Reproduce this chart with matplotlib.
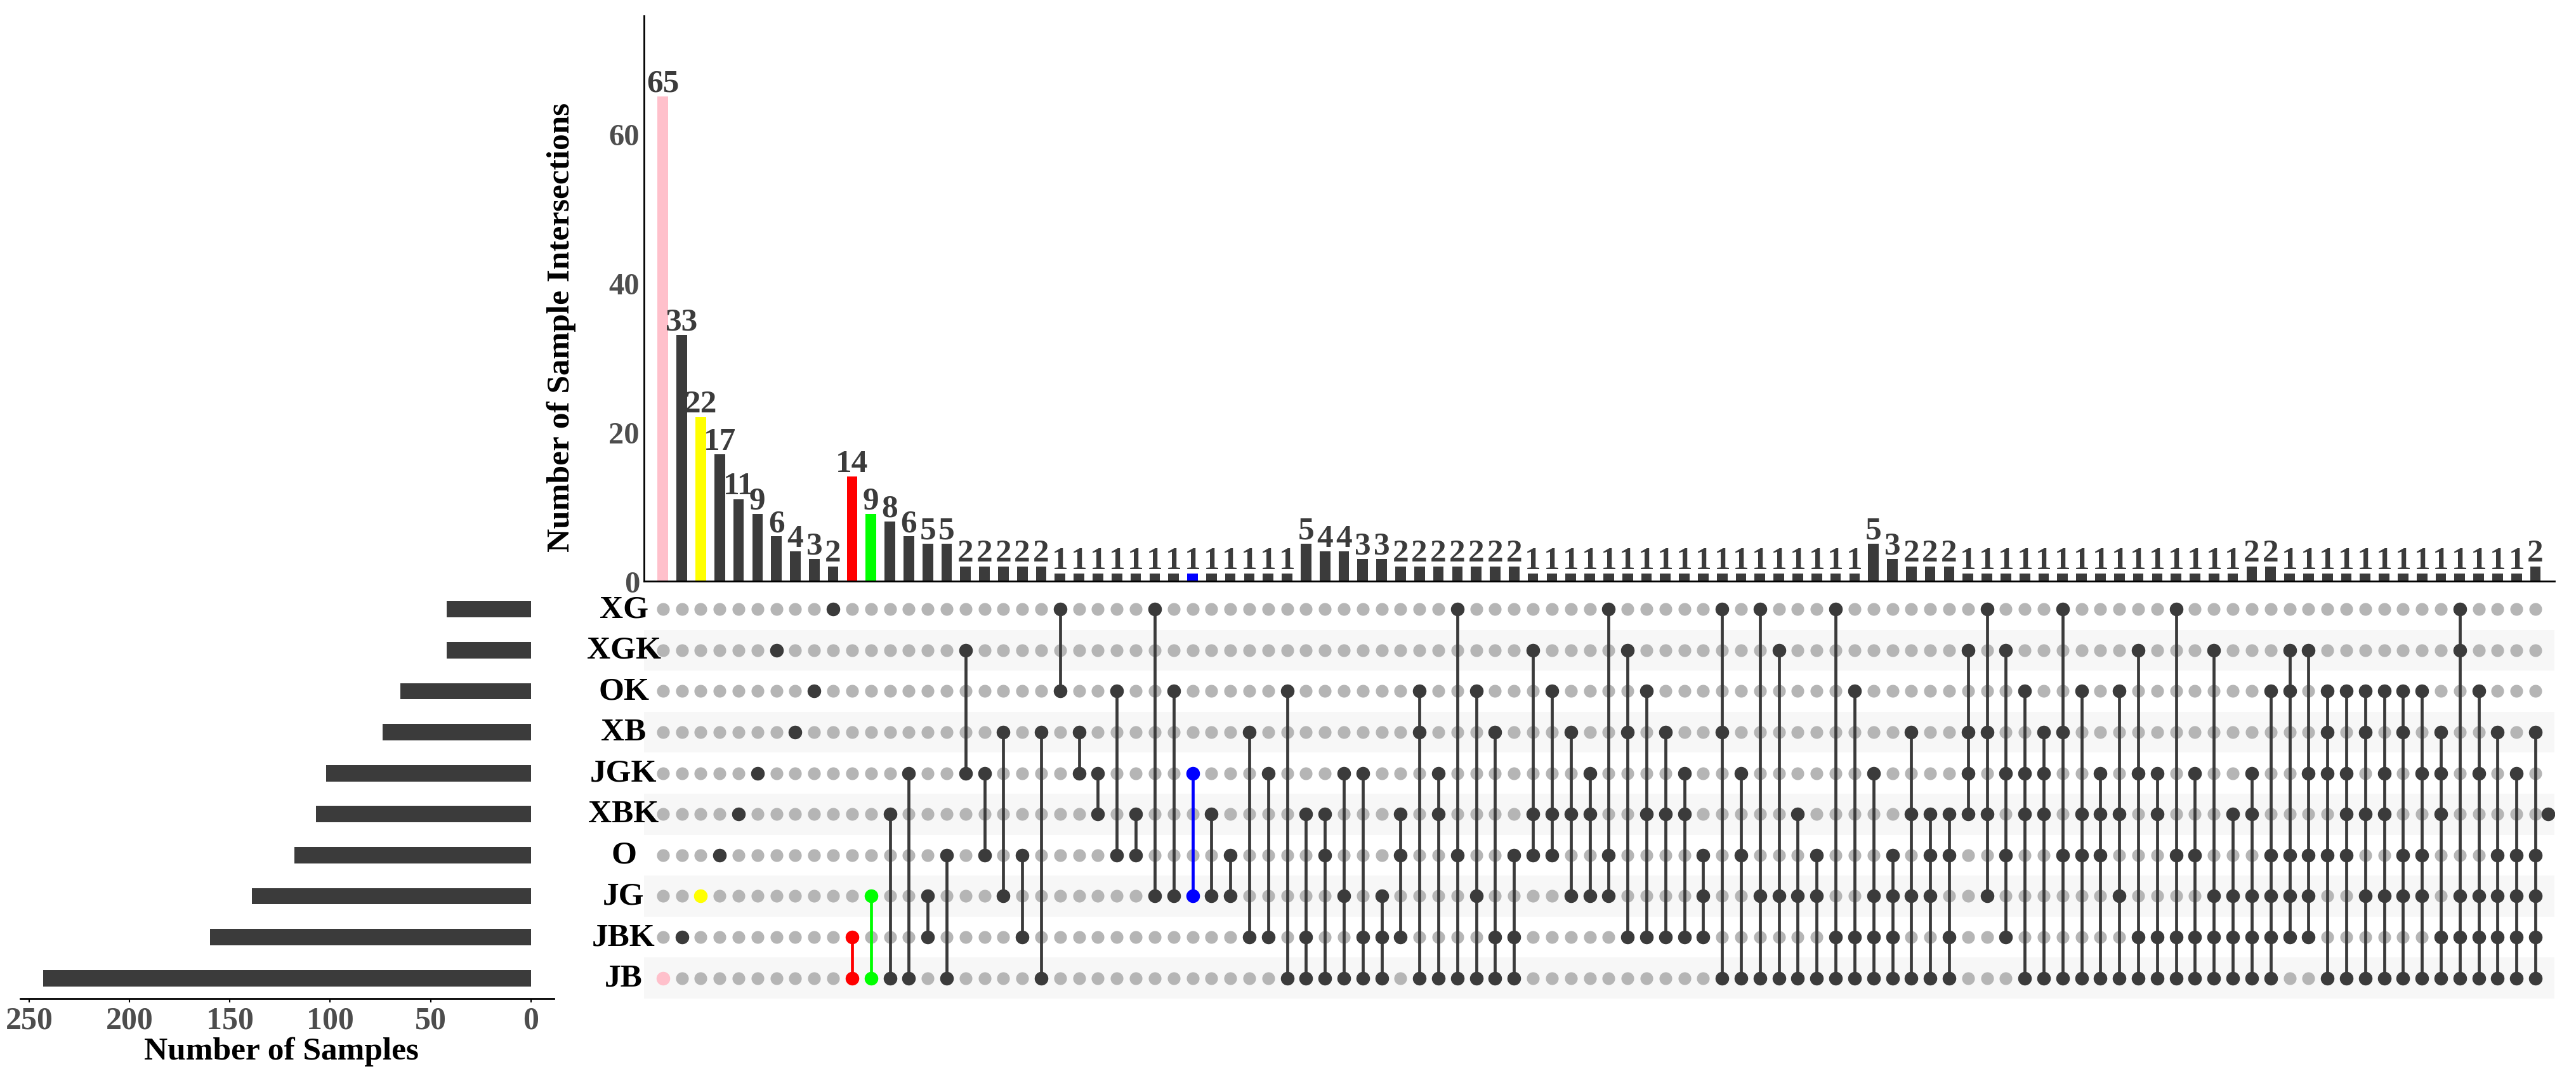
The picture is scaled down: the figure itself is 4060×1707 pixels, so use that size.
import numpy as np
import matplotlib
matplotlib.use('Agg')
import matplotlib.pyplot as plt
from matplotlib.transforms import blended_transform_factory

plt.rcParams['font.family'] = ['Liberation Serif', 'DejaVu Serif']
plt.rcParams['font.weight'] = 'bold'

# sets, top to bottom in the matrix
sets = ["XG", "XGK", "OK", "XB", "JGK", "XBK", "O", "JG", "JBK", "JB"]
set_sizes = [42, 42, 65, 74, 102, 107, 118, 139, 160, 243]

# intersections, left to right
combos = [
    "JB", "JBK", "JG", "O", "XBK", "JGK", "XGK", "XB", "OK", "XG",
    "JBK&JB", "JG&JB", "XBK&JB", "JGK&JB", "JG&JBK", "O&JB",
    "XGK&JGK", "JGK&O", "XB&JG", "O&JBK", "XB&JB",
    "XG&OK", "XB&JGK", "JGK&XBK", "OK&O", "XBK&O", "XG&JG", "OK&JG",
    "JGK&JG", "XBK&JG", "O&JG", "XB&JBK", "JGK&JBK", "OK&JB",
    "XBK&JBK&JB", "XBK&O&JB", "JGK&JG&JB", "JGK&JBK&JB", "JG&JBK&JB",
    "XBK&O&JBK", "OK&XB&JB", "JGK&XBK&JB", "XG&O&JB", "OK&JG&JB",
    "XB&JBK&JB", "O&JBK&JB",
    "XGK&XBK&O", "OK&XBK&O", "XB&XBK&JG", "JGK&XBK&JG", "XG&O&JG",
    "XGK&XB&JBK", "OK&XBK&JBK", "XB&XBK&JBK", "JGK&XBK&JBK", "O&JG&JBK",
    "XG&XB&JB", "JGK&O&JB", "XG&JG&JB", "XGK&JG&JB", "XBK&JG&JB",
    "O&JG&JB", "XG&JBK&JB", "OK&JBK&JB",
    "JGK&JG&JBK&JB", "O&JG&JBK&JB", "XB&XBK&JG&JB", "XBK&O&JG&JB",
    "XBK&O&JBK&JB",
    "XGK&XB&JGK&XBK", "XG&XB&XBK&JG", "XGK&JGK&O&JBK", "OK&JGK&XBK&JB",
    "XB&JGK&XBK&JB", "XG&XB&O&JB", "OK&XBK&O&JB", "JGK&XBK&O&JB",
    "OK&XBK&JG&JB", "XGK&JGK&JBK&JB", "JGK&XBK&JBK&JB", "XG&O&JBK&JB",
    "JGK&O&JBK&JB", "XGK&JG&JBK&JB", "XBK&JG&JBK&JB",
    "JGK&XBK&JG&JBK&JB", "OK&O&JG&JBK&JB",
    "XGK&OK&O&JG&JBK", "XGK&JGK&O&JG&JBK", "OK&XB&JGK&O&JB",
    "OK&JGK&XBK&O&JB", "OK&XB&XBK&JG&JB", "OK&JGK&XBK&JG&JB",
    "OK&XB&O&JG&JB", "OK&JGK&O&JG&JB", "XB&JGK&XBK&JBK&JB",
    "XG&XGK&JG&JBK&JB", "OK&JGK&JG&JBK&JB", "XB&O&JG&JBK&JB",
    "JGK&O&JG&JBK&JB", "XB&O&JG&JBK&JB",
]
counts = [
    65, 33, 22, 17, 11, 9, 6, 4, 3, 2,
    14, 9, 8, 6, 5, 5,
    2, 2, 2, 2, 2,
    1, 1, 1, 1, 1, 1, 1, 1, 1, 1, 1, 1, 1,
    5, 4, 4, 3, 3,
    2, 2, 2, 2, 2, 2, 2,
    1, 1, 1, 1, 1, 1, 1, 1, 1, 1, 1, 1, 1, 1, 1, 1, 1, 1,
    5, 3, 2, 2, 2,
    1, 1, 1, 1, 1, 1, 1, 1, 1, 1, 1, 1, 1, 1, 1,
    2, 2,
    1, 1, 1, 1, 1, 1, 1, 1, 1, 1, 1, 1, 1,
    2,
]
highlight = {0: "pink", 2: "yellow", 10: "red", 11: "#00ff00", 28: "blue"}
# lone point at the right edge of the matrix
stray_dots = [("XBK", 99.67)]

dark = "#3b3b3b"
light = "#b5b5b5"
band = "#f7f7f7"
tick_grey = "#4d4d4d"

fig = plt.figure(figsize=(40.6, 17.08), dpi=100)
ax_bar = fig.add_axes([0.25, 0.4631, 0.7416, 0.5217])
ax_mat = fig.add_axes([0.25, 0.0779, 0.7416, 0.3782])
ax_set = fig.add_axes([0.0079, 0.0779, 0.2071, 0.3782])

n = len(counts)
x = np.arange(n)
row_y = {s: len(sets) - 1 - i for i, s in enumerate(sets)}

# intersection bars
bar_colors = [highlight.get(i, dark) for i in range(n)]
ax_bar.bar(x, counts, width=0.56, color=bar_colors)
for i, c in enumerate(counts):
    ax_bar.annotate(str(c), (i, c), xytext=(0, 6), textcoords='offset points',
                    ha='center', va='baseline', fontsize=37, fontweight='bold',
                    color=dark)
ax_bar.set_xlim(-1, 100)
ax_bar.set_ylim(0, 75.8)
ax_bar.set_yticks([0, 20, 40, 60])
ax_bar.set_xticks([])
ax_bar.tick_params(axis='y', length=0, pad=5, labelsize=35, labelcolor=tick_grey)
for lab in ax_bar.get_yticklabels():
    lab.set_fontweight('bold')
ax_bar.spines['top'].set_visible(False)
ax_bar.spines['right'].set_visible(False)
ax_bar.spines['left'].set_linewidth(2)
ax_bar.spines['bottom'].set_linewidth(2)
ax_bar.set_ylabel("Number of Sample Intersections", fontsize=37, fontweight='bold')
ax_bar.yaxis.set_label_coords(-0.0355, 0.45)

# matrix
for s, y in row_y.items():
    if sets.index(s) % 2 == 1:
        ax_mat.axhspan(y - 0.5, y + 0.5, color=band, zorder=0, lw=0)
gx, gy = np.meshgrid(x, np.arange(len(sets)))
ax_mat.scatter(gx.ravel(), gy.ravel(), s=210, color=light, zorder=1, lw=0)
for i, combo in enumerate(combos):
    ys = [row_y[m] for m in combo.split("&")]
    col = highlight.get(i, dark)
    if len(ys) > 1:
        ax_mat.plot([i, i], [min(ys), max(ys)], color=col, lw=3.4, zorder=2)
    ax_mat.scatter([i] * len(ys), ys, s=240, color=col, zorder=3, lw=0)
for s, xp in stray_dots:
    ax_mat.scatter([xp], [row_y[s]], s=240, color=dark, zorder=3, lw=0)
ax_mat.set_xlim(-1, 100)
ax_mat.set_ylim(-0.5, len(sets) - 0.5)
ax_mat.axis('off')

trans = blended_transform_factory(fig.transFigure, ax_mat.transData)
for s, y in row_y.items():
    ax_mat.text(983 / 4060, y, s, transform=trans, ha='center', va='center',
                fontsize=37, fontweight='bold', color='black')

# set size bars
ax_set.barh([row_y[s] for s in sets], set_sizes, height=0.4, color=dark)
ax_set.set_xlim(254.4, -11.4)
ax_set.set_ylim(-0.5, len(sets) - 0.5)
ax_set.set_yticks([])
ax_set.set_xticks([0, 50, 100, 150, 200, 250])
ax_set.tick_params(axis='x', length=4, width=1.5, pad=4, labelsize=36,
                   labelcolor=tick_grey)
for lab in ax_set.get_xticklabels():
    lab.set_fontweight('bold')
for side in ['top', 'right', 'left']:
    ax_set.spines[side].set_visible(False)
ax_set.spines['bottom'].set_linewidth(2)
ax_set.set_xlabel("Number of Samples", fontsize=37, fontweight='bold')
ax_set.xaxis.set_label_coords(0.489, -0.092)

fig.savefig("out.png", dpi=100)
